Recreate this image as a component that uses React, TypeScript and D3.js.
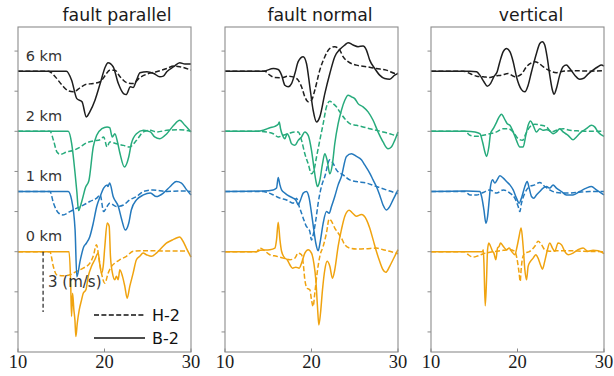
import React from 'react';
import * as d3 from 'd3';

type Pt = [number, number];

// stations, top to bottom
const stations = ['6 km', '2 km', '1 km', '0 km'];
const stationOffsets = [9, 6, 3, 0];
const stationColors = ['#1e1e1e', '#27ab7c', '#2479bd', '#f0a30f'];
const panelTitles = ['fault parallel', 'fault normal', 'vertical'];
const xTicks = [10, 20, 30];
const yTicks = [-4, -2, 0, 2, 4, 6, 8, 10];
const legendLabels = ['H-2', 'B-2'];
const scaleBarValue = 3;

// fault parallel (m/s) — B-2 solid, H-2 dashed
const par6B: Pt[] = [[10,0],[15.6,0],[16.2,-0.45],[16.8,-1.37],[17.4,-1.53],[17.9,-2.28],[18.3,-2.03],[18.9,-1.45],[19.5,-0.62],[20.1,0.22],[20.4,0.42],[21.0,0.22],[21.6,-0.62],[22.2,-1.12],[22.5,-1.17],[23.0,-0.78],[23.3,-0.82],[23.7,-0.45],[24.1,-0.08],[24.9,-0.03],[25.7,-0.12],[26.4,-0.28],[26.8,-0.25],[27.2,-0.03],[28.0,0.22],[28.7,0.42],[29.3,0.35],[30,0.35]];
const par6H: Pt[] = [[10,0],[13.5,0],[14.3,-0.28],[15.1,-0.7],[15.8,-0.98],[16.4,-1.03],[17.2,-0.82],[17.9,-0.65],[18.7,-0.62],[19.5,-0.53],[20.1,-0.2],[20.6,0.05],[21.2,0.05],[21.8,-0.28],[22.6,-0.58],[23.3,-0.62],[24.1,-0.32],[24.9,-0.15],[26.0,-0.03],[27.2,0.13],[28.0,0.25],[28.7,0.22],[30,0.05]];
const par2B: Pt[] = [[10,0],[15.8,0],[16.2,-0.6],[16.6,-2.1],[16.8,-3.0],[17.0,-3.95],[17.4,-3.45],[17.8,-2.8],[18.2,-2.45],[18.7,-0.78],[19.1,-0.2],[19.7,0.13],[20.3,0.22],[20.6,0.18],[20.9,-0.28],[21.2,-0.12],[21.5,-0.53],[21.8,-1.12],[22.3,-1.78],[22.8,-1.28],[23.1,-0.62],[23.7,-0.12],[24.5,0.05],[25.3,-0.03],[25.8,-0.28],[26.4,-0.37],[27.2,-0.12],[28.0,0.3],[28.7,0.55],[29.3,0.3],[30,-0.03]];
const par2H: Pt[] = [[10,0],[13.7,0],[14.1,-0.45],[14.5,-1.03],[14.9,-1.15],[15.6,-1.03],[16.4,-0.95],[17.2,-0.78],[17.9,-0.58],[18.7,-0.48],[19.5,-0.42],[19.9,-0.28],[20.3,-0.78],[20.6,-0.53],[21.4,-0.62],[22.2,-0.7],[22.9,-0.78],[23.7,-0.45],[24.5,-0.03],[25.3,0.05],[26.0,-0.03],[27.2,0.05],[28.7,0.08],[30,0]];
const par1B: Pt[] = [[10,0],[15.8,0],[16.2,-0.42],[16.6,-1.92],[16.8,-4.25],[17.2,-3.42],[17.6,-2.75],[17.9,-2.58],[18.3,-2.25],[18.7,-1.58],[19.1,-0.75],[19.5,-0.25],[19.9,0.17],[20.3,0.33],[20.4,0.25],[20.6,0.42],[21.0,-0.25],[21.6,-0.75],[22.0,-1.42],[22.4,-1.92],[22.8,-1.58],[23.1,-0.92],[23.7,-0.42],[24.5,-0.17],[25.3,-0.08],[26.0,-0.25],[26.8,-0.08],[27.6,0.25],[28.3,0.5],[28.9,0.42],[29.5,0.08],[30,-0.17]];
const par1H: Pt[] = [[10,0],[13.7,0],[14.1,-0.58],[14.7,-1.08],[15.2,-1.17],[16.0,-1.0],[16.8,-0.83],[17.6,-0.67],[18.3,-0.5],[19.1,-0.33],[19.5,-0.17],[19.9,-1.0],[20.3,-0.75],[20.6,-0.58],[21.4,-0.75],[22.2,-0.67],[22.9,-0.42],[23.7,-0.25],[24.5,0],[25.6,0.08],[27.2,0],[28.7,0.03],[30,0]];
const par0B: Pt[] = [[10,0],[15.9,0],[16.08,-1.4],[16.19,-3.23],[16.31,-2.07],[16.46,-2.9],[16.58,-3.4],[16.69,-4.23],[16.85,-3.57],[17.08,-2.9],[17.35,-2.4],[17.54,-2.07],[17.85,-1.9],[18.12,-1.23],[18.5,-0.73],[18.88,-0.4],[19.27,-0.07],[19.46,-0.65],[19.65,-1.07],[19.85,-0.73],[20.04,0.27],[20.31,1.43],[20.54,1.27],[20.69,-0.23],[20.92,-1.07],[21.19,-1.4],[21.38,-1.23],[21.58,-1.4],[21.77,-0.9],[22.08,-1.23],[22.35,-1.73],[22.62,-2.32],[22.92,-1.73],[23.31,-1.07],[23.69,-0.4],[24.08,-0.23],[24.46,-0.07],[24.85,-0.15],[25.42,-0.23],[26.0,-0.07],[26.58,0.18],[27.15,0.43],[27.54,0.52],[27.92,0.6],[28.31,0.68],[28.69,0.73],[29.08,0.52],[29.46,0.18],[30,-0.27]];
const par0H: Pt[] = [[10,0],[13.69,0],[14.08,-0.73],[14.46,-1.15],[15.23,-1.2],[16.0,-1.15],[16.77,-0.98],[17.54,-0.82],[18.31,-0.57],[18.69,-0.23],[19.08,0.35],[19.38,-0.4],[19.65,-1.07],[20.04,-1.57],[20.42,-1.07],[20.81,-0.73],[21.19,-0.57],[21.77,-0.4],[22.54,-0.23],[23.31,0.02],[24.46,0.05],[26.0,0.05],[27.15,0.03],[28.69,0.03],[29.6,0.03]];

// fault normal
const nor6B: Pt[] = [[10,0],[14.4,0],[15.6,0.13],[16.15,0.08],[16.54,-0.2],[16.92,-0.7],[17.31,-0.78],[17.69,-0.62],[18.08,-0.12],[18.46,0.47],[19.04,0.72],[19.42,0.38],[19.81,-0.78],[20.19,-1.95],[20.58,-2.53],[20.96,-2.28],[21.54,-1.12],[22.12,-0.12],[22.69,0.72],[23.27,1.08],[23.85,1.3],[24.23,1.42],[24.81,1.3],[25.38,1.22],[25.96,1.25],[26.35,1.05],[26.73,0.55],[27.31,0.13],[27.88,-0.2],[28.46,-0.37],[29.04,-0.4],[29.62,-0.2],[30,-0.12]];
const nor6H: Pt[] = [[10,0],[14.6,0],[15.19,-0.2],[15.77,-0.32],[16.54,-0.33],[17.31,-0.25],[18.08,-0.32],[18.46,-0.45],[18.85,-0.78],[19.23,-1.28],[19.62,-1.53],[20.0,-1.45],[20.38,-0.95],[20.96,0.05],[21.54,0.72],[22.12,1.13],[22.69,1.22],[23.27,1.05],[23.65,0.72],[24.23,0.47],[25.19,0.3],[26.35,0.22],[27.5,0.13],[28.65,0.05],[29.81,-0.12],[30,-0.1]];
const nor2B: Pt[] = [[10,0],[13.8,0],[14.42,0.05],[15.19,0.18],[15.77,0.25],[16.15,0.35],[16.27,0.47],[16.42,0.13],[16.65,-0.2],[16.92,-0.37],[17.19,-0.12],[17.42,-0.28],[17.69,-0.62],[18.08,-0.7],[18.46,-0.45],[18.85,-0.28],[19.23,-0.03],[19.62,-0.2],[20.0,-0.95],[20.27,-1.78],[20.5,-2.45],[20.69,-2.75],[20.96,-2.45],[21.27,-1.62],[21.54,-1.12],[21.81,-1.45],[22.12,-2.12],[22.42,-1.62],[22.69,-0.62],[23.08,0.38],[23.46,1.05],[23.85,1.55],[24.23,1.8],[24.62,1.72],[25.0,1.63],[25.38,1.38],[25.96,1.22],[26.54,0.97],[27.12,0.55],[27.69,-0.03],[28.27,-0.53],[28.85,-0.87],[29.23,-0.78],[29.62,-0.45],[30,-0.03]];
const nor2H: Pt[] = [[10,0],[14.0,0],[14.81,-0.03],[15.58,-0.12],[16.15,-0.28],[16.73,-0.2],[17.31,-0.12],[18.08,-0.03],[18.46,-0.03],[18.85,-0.45],[19.23,-1.12],[19.62,-1.62],[20.0,-2.12],[20.27,-1.95],[20.58,-1.28],[20.96,-0.45],[21.35,0.38],[21.73,1.22],[22.12,1.5],[22.5,1.38],[22.88,1.22],[23.27,0.97],[23.85,0.63],[24.42,0.38],[25.19,0.3],[25.96,0.22],[26.73,0.13],[27.5,0.05],[28.27,-0.03],[29.04,-0.12],[29.81,-0.2],[30,-0.2]];
const nor1B: Pt[] = [[10,0],[14.4,0.03],[15.58,0.08],[15.96,0.17],[16.15,0.7],[16.35,0.33],[16.54,0.08],[16.92,-0.08],[17.5,-0.25],[17.88,-0.33],[18.19,-0.42],[18.46,-0.67],[18.73,-0.42],[19.04,-0.08],[19.42,0],[19.73,-0.33],[20.0,-1.08],[20.27,-1.92],[20.5,-2.58],[20.77,-2.95],[21.04,-2.42],[21.35,-1.58],[21.73,-1.0],[22.04,-1.08],[22.31,-0.75],[22.69,-0.25],[23.08,0.33],[23.46,0.75],[24.04,1.75],[24.62,1.88],[25.19,1.75],[25.77,1.58],[26.15,1.33],[26.73,0.92],[27.12,0.58],[27.5,0.25],[27.88,-0.17],[28.27,-0.67],[28.65,-0.92],[29.04,-0.75],[29.42,-0.42],[30,0.08]];
const nor1H: Pt[] = [[10,0],[14.4,0],[14.9,-0.05],[15.58,-0.17],[16.35,-0.33],[17.12,-0.42],[17.88,-0.58],[18.27,-0.33],[18.58,-0.75],[18.85,-1.08],[19.12,-1.42],[19.42,-1.75],[19.62,-1.83],[19.81,-2.0],[20.0,-2.42],[20.19,-2.17],[20.5,-1.42],[20.77,-0.58],[21.15,0.25],[21.54,0.75],[22.12,1.58],[22.5,1.4],[22.88,1.08],[23.65,0.83],[24.42,0.58],[25.19,0.5],[26.35,0.42],[27.5,0.25],[28.65,0.08],[29.81,-0.08],[30,-0.1]];
const nor0B: Pt[] = [[10,0],[13.65,0],[14.04,0.07],[15.19,0.1],[15.77,0.18],[15.96,0.6],[16.15,1.47],[16.35,0.6],[16.54,0.02],[16.92,-0.32],[17.19,-0.4],[17.5,-0.65],[17.81,-0.82],[18.19,-0.77],[18.58,-0.82],[18.85,-0.57],[19.23,-0.07],[19.62,0.1],[20.0,-0.07],[20.27,-0.57],[20.5,-1.4],[20.69,-2.73],[20.85,-3.65],[21.04,-3.07],[21.27,-1.9],[21.54,-0.9],[21.81,-0.48],[22.12,-0.73],[22.42,-1.32],[22.69,-0.9],[23.08,0.27],[23.46,1.1],[23.85,1.77],[24.35,2.07],[24.73,1.93],[25.19,1.77],[25.77,1.85],[26.35,1.6],[26.73,1.18],[27.12,0.6],[27.5,0.02],[27.88,-0.48],[28.27,-0.9],[28.58,-1.03],[29.04,-0.73],[29.42,-0.4],[30,0.1]];
const nor0H: Pt[] = [[10,0],[13.65,0],[14.04,0.18],[14.42,0.1],[15.19,-0.15],[15.96,-0.23],[16.73,-0.32],[17.5,-0.4],[18.08,-0.32],[18.46,-0.07],[18.85,-0.15],[19.04,-0.57],[19.23,-1.4],[19.5,-1.82],[19.81,-1.9],[20.0,-2.4],[20.19,-2.73],[20.38,-2.07],[20.65,-1.07],[20.96,-0.23],[21.35,0.27],[21.73,0.93],[22.04,1.63],[22.31,1.52],[22.69,1.18],[23.08,0.93],[23.46,0.68],[23.85,0.35],[24.42,0.18],[25.19,0.13],[26.35,0.15],[27.5,0.18],[28.27,0.1],[29.04,0.02],[30,-0.1]];

// vertical
const ver6B: Pt[] = [[10,0],[14.5,0],[15.27,-0.03],[15.65,-0.2],[16.12,-0.53],[16.5,-0.75],[16.88,-0.62],[17.27,-0.28],[17.65,-0.03],[17.96,0.47],[18.35,0.97],[18.73,1.13],[19.12,0.97],[19.5,0.47],[19.88,-0.28],[20.46,-0.92],[20.85,-1.03],[21.23,-0.7],[21.62,-0.03],[22.19,0.88],[22.58,1.38],[22.88,1.47],[23.15,1.3],[23.42,0.72],[23.73,-0.2],[24.04,-0.95],[24.23,-1.15],[24.5,-0.87],[24.88,-0.2],[25.27,0.22],[25.65,0.3],[26.04,0.13],[26.62,-0.2],[27.19,-0.4],[27.58,-0.37],[28.15,-0.15],[28.73,0.05],[29.31,0.22],[29.69,0.3],[30,0.25]];
const ver6H: Pt[] = [[10,0],[13.73,0],[14.5,-0.12],[15.27,-0.25],[16.04,-0.28],[16.81,-0.32],[17.38,-0.25],[18.15,-0.2],[18.92,-0.12],[19.69,-0.28],[20.46,-0.15],[21.04,0.22],[21.62,0.42],[22.0,0.47],[22.38,0.42],[22.96,0.22],[23.73,0.02],[24.5,-0.08],[25.27,0],[26.81,0.02],[28.35,0],[30,0.02]];
const ver2B: Pt[] = [[10,0],[14.12,0],[15.08,-0.03],[15.65,-0.12],[15.96,-0.53],[16.23,-1.03],[16.42,-1.25],[16.69,-0.78],[16.88,-0.12],[17.19,0.13],[17.5,0.38],[17.88,0.72],[18.15,0.85],[18.54,0.58],[18.81,0.38],[19.12,0.3],[19.5,-0.03],[19.88,-0.45],[20.27,-0.78],[20.65,-0.78],[20.96,-0.2],[21.23,0.3],[21.5,0.52],[21.81,0.3],[22.19,-0.03],[22.58,0.13],[22.96,0.05],[23.35,0.08],[23.73,0.02],[24.12,-0.12],[24.5,-0.03],[24.88,0.13],[25.27,-0.03],[25.85,-0.2],[26.42,-0.42],[26.81,-0.28],[27.38,-0.03],[27.96,0.13],[28.54,0.3],[28.92,0.22],[29.31,-0.03],[30,-0.25]];
const ver2H: Pt[] = [[10,0],[13.92,0],[14.5,-0.2],[15.27,-0.25],[16.04,-0.2],[16.81,-0.12],[17.58,-0.03],[18.35,0.13],[18.92,0.13],[19.5,-0.03],[20.08,-0.37],[20.58,-0.45],[20.96,-0.12],[21.42,0.22],[22.0,0.35],[22.77,0.3],[23.35,0.22],[23.92,-0.03],[24.5,0.05],[25.27,0.13],[26.04,0.05],[27.19,0.02],[28.35,0],[30,0]];
const ver1B: Pt[] = [[10,0],[14.12,0.03],[15.65,0],[15.85,-0.25],[16.12,-0.92],[16.35,-1.58],[16.54,-1.25],[16.73,-0.42],[16.88,0.25],[17.12,0.58],[17.38,0.42],[17.65,0.58],[17.96,0.78],[18.35,0.67],[18.73,0.5],[19.12,0.33],[19.5,0.08],[19.88,-0.33],[20.19,-0.58],[20.46,-0.33],[20.85,0.25],[21.12,0.5],[21.35,0.17],[21.62,-0.25],[21.88,-0.33],[22.19,-0.17],[22.58,0],[22.96,0.17],[23.35,0.25],[23.73,0.17],[24.12,0.33],[24.5,0.17],[25.08,0],[25.65,-0.17],[26.42,-0.17],[27.19,0],[27.96,0.17],[28.54,0.25],[29.12,0.08],[30,-0.17]];
const ver1H: Pt[] = [[10,0],[13.92,0],[14.5,-0.17],[15.27,-0.17],[16.04,-0.05],[16.81,0.08],[17.58,-0.08],[18.35,0.08],[19.12,-0.08],[19.69,-0.33],[20.08,-0.75],[20.27,-1.0],[20.46,-0.58],[20.85,-0.08],[21.42,0.25],[22.0,0.33],[22.58,0.45],[23.15,0.25],[23.73,0.08],[24.5,-0.05],[25.65,-0.08],[26.81,-0.05],[28.35,0],[30,0]];
const ver0B: Pt[] = [[10,0],[15.96,0],[16.04,0.1],[16.12,-0.57],[16.27,-2.7],[16.42,-1.4],[16.54,0.1],[16.69,0.43],[16.88,0.27],[17.12,0.02],[17.27,-0.07],[17.5,-0.4],[17.69,0.18],[17.88,0.27],[18.04,0.43],[18.35,0.27],[18.73,0.1],[19.04,0.18],[19.31,0.02],[19.69,-0.15],[19.96,0.27],[20.19,0.77],[20.42,1.18],[20.65,0.27],[20.85,-0.9],[21.04,-1.4],[21.23,-0.73],[21.5,-0.48],[21.81,-0.32],[22.12,-0.15],[22.38,-0.32],[22.65,-0.65],[22.88,-0.87],[23.15,-0.48],[23.42,0.02],[23.73,0.43],[24.04,0.18],[24.31,0.02],[24.69,0.43],[25.08,0.35],[25.46,0.02],[25.85,-0.15],[26.42,-0.07],[27.0,0.1],[27.58,0.18],[28.15,0.02],[28.73,0.07],[29.31,0.05],[30,-0.1]];
const ver0H: Pt[] = [[10,0],[13.92,0],[14.31,-0.15],[14.88,-0.27],[15.46,-0.2],[16.04,-0.1],[16.81,-0.03],[17.58,0.02],[18.35,0.07],[19.12,0.1],[19.69,0.02],[19.96,-0.4],[20.19,-1.07],[20.31,-1.48],[20.42,-0.9],[20.58,-0.32],[20.85,-0.07],[21.42,0.02],[22.0,0.27],[22.38,0.52],[22.77,0.35],[23.15,0.1],[23.73,0.02],[24.5,0.05],[26.04,0.05],[27.58,0.02],[30,0]];

// [panel][station] -> [H-2, B-2]
const traces: Pt[][][][] = [
  [[par6H, par6B], [par2H, par2B], [par1H, par1B], [par0H, par0B]],
  [[nor6H, nor6B], [nor2H, nor2B], [nor1H, nor1B], [nor0H, nor0B]],
  [[ver6H, ver6B], [ver2H, ver2B], [ver1H, ver1B], [ver0H, ver0B]],
];

const W = 614;
const H = 376;
const panelLefts = [18, 225, 431];
const panelW = 173;
const top = 27;
const bottom = 352;
const titleCenters = [117, 320, 531];
const frameColor = '#8c8c8c';
const dash = '5,2.4';

const y = d3.scaleLinear().domain([-5, 11.2]).range([bottom, top]);

export default function App() {
  return (
    <svg width={W} height={H} style={{ position: 'absolute', left: 0, top: 0, background: '#fff' }}>
      {panelTitles.map((title, p) => {
        const left = panelLefts[p];
        const x = d3.scaleLinear().domain([10, 30]).range([left, left + panelW]);
        const line = d3.line<Pt>().x(d => x(d[0])).curve(d3.curveMonotoneX);
        return (
          <g key={title}>
            <text x={titleCenters[p]} y={21} textAnchor="middle" fontFamily="DejaVu Sans" fontSize={17.3} fill="#1a1a1a">{title}</text>
            {yTicks.map(t => (
              <line key={t} x1={left - 3.5} x2={left} y1={y(t)} y2={y(t)} stroke={frameColor} strokeWidth={1} />
            ))}
            {xTicks.map(t => (
              <g key={t}>
                <line x1={x(t)} x2={x(t)} y1={bottom} y2={bottom - 3.5} stroke={frameColor} strokeWidth={1} />
                <text x={x(t)} y={368} textAnchor="middle" fontFamily="Liberation Serif" fontSize={18.5} fill="#1a1a1a">{t}</text>
              </g>
            ))}
            {stations.map((s, i) => i).reverse().map(i => (
              <g key={i}>
                {traces[p][i].map((tr, k) => (
                  <path key={k}
                    d={line.y(d => y(d[1] + stationOffsets[i]))(tr) || ''}
                    fill="none" stroke={stationColors[i]} strokeWidth={1.5}
                    strokeDasharray={k === 0 ? dash : undefined} strokeLinejoin="round" />
                ))}
              </g>
            ))}
            <rect x={left} y={top} width={panelW} height={bottom - top} fill="none" stroke={frameColor} strokeWidth={1.1} />
            {p === 0 && (
              <g>
                {stations.map((s, i) => (
                  <text key={s} x={x(10.9)} y={y(stationOffsets[i]) - 10.5} fontFamily="DejaVu Sans" fontSize={14.5} fill="#333">{s}</text>
                ))}
                <line x1={x(12.9)} x2={x(12.9)} y1={y(0)} y2={y(-scaleBarValue)} stroke="#222" strokeWidth={1.2} strokeDasharray="4,2.5" />
                <text x={48} y={287} fontFamily="DejaVu Sans" fontSize={15} fill="#333">{`${scaleBarValue} (m/s)`}</text>
                {legendLabels.map((lab, k) => (
                  <g key={lab}>
                    <line x1={94} x2={145} y1={315 + k * 23} y2={315 + k * 23} stroke="#111" strokeWidth={1.5} strokeDasharray={k === 0 ? dash : undefined} />
                    <text x={152} y={321 + k * 23} fontFamily="DejaVu Sans" fontSize={16} fill="#111">{lab}</text>
                  </g>
                ))}
              </g>
            )}
          </g>
        );
      })}
    </svg>
  );
}
